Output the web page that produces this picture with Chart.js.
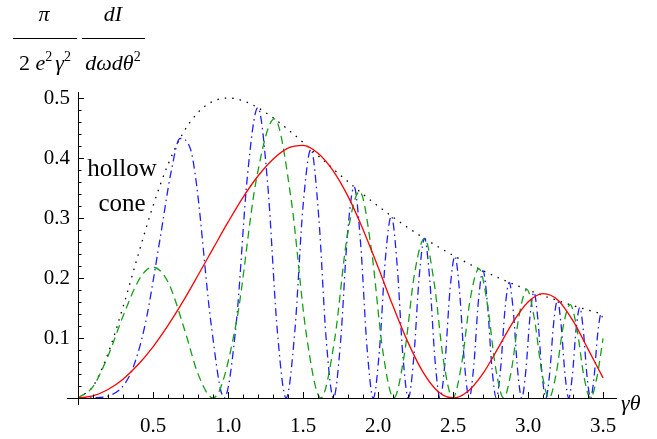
<!DOCTYPE html>
<html>
<head>
<meta charset="utf-8">
<script src="https://cdn.jsdelivr.net/npm/chart.js@4"></script>
<style>
  html, body { margin: 0; padding: 0; background: #fff; }
  canvas { display: block; }
</style>
</head>
<body>
<canvas id="myChart" width="657" height="439"></canvas>
<script>
// tick labels
const xTicks = [0.5, 1.0, 1.5, 2.0, 2.5, 3.0, 3.5];
const yTicks = [0.1, 0.2, 0.3, 0.4, 0.5];

// dotted envelope (hollow cone)
const xEnv = [0, 0.1, 0.2, 0.3, 0.4, 0.5, 0.6, 0.7, 0.8, 0.9, 1.0, 1.1, 1.2, 1.3, 1.4, 1.5, 1.6, 1.7,
  1.8, 1.9, 2.0, 2.1, 2.2, 2.3, 2.4, 2.5, 2.6, 2.7, 2.8, 2.9, 3.0, 3.1, 3.2, 3.3, 3.4, 3.5];
const envVals = [0, 0.0196, 0.0740, 0.1515, 0.2378, 0.3200, 0.3893, 0.4414, 0.4759, 0.4945, 0.5000,
  0.4955, 0.4837, 0.4671, 0.4474, 0.4260, 0.4040, 0.3820, 0.3605, 0.3397, 0.3200, 0.3014, 0.2838,
  0.2674, 0.2521, 0.2378, 0.2245, 0.2122, 0.2007, 0.1900, 0.1800, 0.1707, 0.1621, 0.1541, 0.1466, 0.1396];

// red solid
const xRed = xEnv;
const redVals = [0, 0.0035, 0.0141, 0.0314, 0.0554, 0.0853, 0.1210, 0.1610, 0.2045, 0.2490, 0.2930,
  0.3345, 0.3700, 0.3980, 0.4165, 0.4210, 0.4080, 0.3790, 0.3360, 0.2810, 0.2182, 0.1532, 0.0927,
  0.0430, 0.0107, 0.0000, 0.0113, 0.0410, 0.0830, 0.1265, 0.1600, 0.1740, 0.1630, 0.1285, 0.0815, 0.0335];

// green dashed
const xGreen = [0, 0.1, 0.2, 0.3, 0.4, 0.4546, 0.5, 0.6, 0.7130, 0.8, 0.9,
  1.0544, 1.1888, 1.3096, 1.4201, 1.5226,
  1.6186, 1.7093, 1.7954, 1.8775, 1.9562, 2.0318,
  2.1048, 2.1752, 2.2435, 2.3098, 2.3742, 2.4369,
  2.4980, 2.5577, 2.6160, 2.6730, 2.7289, 2.7836,
  2.8373, 2.8899, 2.9417, 2.9925, 3.0425, 3.0917,
  3.1401, 3.1877, 3.2347, 3.2810, 3.3267, 3.3717,
  3.4161, 3.4600, 3.5];
const greenVals = [0, 0.0190, 0.0700, 0.1364, 0.1942, 0.2129, 0.2180, 0.1933, 0.1117, 0.0402, 0,
  0.1246, 0.3640, 0.4653, 0.3324, 0.1053,
  0, 0.0950, 0.2711, 0.3443, 0.2464, 0.0785,
  0, 0.0720, 0.2074, 0.2659, 0.1920, 0.0617,
  0, 0.0575, 0.1669, 0.2154, 0.1566, 0.0506,
  0, 0.0477, 0.1393, 0.1807, 0.1320, 0.0429,
  0, 0.0408, 0.1194, 0.1555, 0.1140, 0.0372,
  0, 0.0356, 0.0995];

// blue dot-dashed
const xBlue = [0, 0.1, 0.2, 0.3, 0.3708, 0.45, 0.5477, 0.62, 0.6801, 0.75, 0.7906, 0.8874,
  0.9747, 1.0548, 1.1292, 1.1990, 1.2649, 1.3276,
  1.3874, 1.4448, 1.5000, 1.5532, 1.6047, 1.6545,
  1.7029, 1.7500, 1.7958, 1.8405, 1.8841, 1.9268,
  1.9685, 2.0094, 2.0494, 2.0887, 2.1272, 2.1651,
  2.2023, 2.2389, 2.2749, 2.3103, 2.3452, 2.3796,
  2.4135, 2.4469, 2.4799, 2.5125, 2.5446, 2.5763,
  2.6077, 2.6387, 2.6693, 2.6995, 2.7295, 2.7591,
  2.7884, 2.8174, 2.8460, 2.8745, 2.9026, 2.9304,
  2.9580, 2.9854, 3.0125, 3.0393, 3.0659, 3.0923,
  3.1185, 3.1444, 3.1702, 3.1957, 3.2210, 3.2462,
  3.2711, 3.2958, 3.3204, 3.3448, 3.3690, 3.3930,
  3.4169, 3.4405, 3.4641, 3.4875, 3.5];
const blueVals = [0, 0.0003, 0.0032, 0.0198, 0.0531, 0.1254, 0.2663, 0.3762, 0.4325, 0.4145, 0.3550, 0.1232,
  0, 0.1246, 0.3695, 0.4839, 0.3550, 0.1155,
  0, 0.1095, 0.3195, 0.4143, 0.3022, 0.0980,
  0, 0.0928, 0.2710, 0.3519, 0.2572, 0.0836,
  0, 0.0796, 0.2330, 0.3034, 0.2224, 0.0725,
  0, 0.0693, 0.2036, 0.2658, 0.1953, 0.0638,
  0, 0.0613, 0.1805, 0.2361, 0.1738, 0.0569,
  0, 0.0549, 0.1619, 0.2122, 0.1565, 0.0513,
  0, 0.0497, 0.1467, 0.1926, 0.1423, 0.0467,
  0, 0.0454, 0.1341, 0.1763, 0.1304, 0.0429,
  0, 0.0417, 0.1235, 0.1625, 0.1203, 0.0396,
  0, 0.0386, 0.1144, 0.1506, 0.1116, 0.0368,
  0, 0.0359, 0.1065, 0.1404, 0.1287];

const SERIF = '"Liberation Serif", "DejaVu Serif", serif';

const pts = (xs, ys) => xs.map((x, i) => ({ x: x, y: ys[i] }));

// draws a row of text runs centred on cx
const drawRuns = (ctx, runs, cx, y) => {
  let total = 0;
  runs.forEach(r => { ctx.font = r.font; total += ctx.measureText(r.t).width + (r.gap || 0); });
  let x = cx - total / 2;
  runs.forEach(r => {
    ctx.font = r.font;
    ctx.fillText(r.t, x, y + (r.dy || 0));
    x += ctx.measureText(r.t).width + (r.gap || 0);
  });
};

// Mathematica-like axes through the origin, ticks pointing inward, plus labels
const axesPlugin = {
  id: 'axes',
  afterDraw(chart) {
    const ctx = chart.ctx;
    const xs = chart.scales.x, ys = chart.scales.y;
    const x0 = xs.getPixelForValue(0), y0 = ys.getPixelForValue(0);
    ctx.save();
    ctx.strokeStyle = '#000';
    ctx.lineWidth = 1;
    ctx.beginPath();
    ctx.moveTo(x0 - 11, y0 + 0.5); ctx.lineTo(chart.chartArea.right, y0 + 0.5);
    ctx.moveTo(x0 + 0.5, chart.chartArea.top); ctx.lineTo(x0 + 0.5, y0 + 7);
    for (let i = 1; i <= 35; i++) {
      const v = i / 10;
      const px = Math.round(xs.getPixelForValue(v)) + 0.5;
      const len = (i % 5 === 0) ? 6 : 3.5;
      ctx.moveTo(px, y0); ctx.lineTo(px, y0 - len);
    }
    for (let i = 1; i <= 25; i++) {
      const v = i / 50;
      const py = Math.round(ys.getPixelForValue(v)) + 0.5;
      const len = (i % 5 === 0) ? 6 : 3.5;
      ctx.moveTo(x0, py); ctx.lineTo(x0 + len, py);
    }
    ctx.stroke();

    ctx.fillStyle = '#000';
    ctx.textBaseline = 'alphabetic';
    const it = 'italic 22px ' + SERIF;
    const up = '22px ' + SERIF;
    const sup = '14px ' + SERIF;
    // y-axis label as two fractions
    drawRuns(ctx, [{ t: 'π', font: it }], 44, 21);
    drawRuns(ctx, [{ t: '2 ', font: up }, { t: 'e', font: it }, { t: '2', font: sup, dy: -9, gap: 3 },
      { t: 'γ', font: it }, { t: '2', font: sup, dy: -9 }], 45, 70);
    drawRuns(ctx, [{ t: 'dI', font: it }], 113, 21);
    drawRuns(ctx, [{ t: 'dωdθ', font: it }, { t: '2', font: sup, dy: -9 }], 113, 70);
    ctx.beginPath();
    ctx.moveTo(13, 38.5); ctx.lineTo(77, 38.5);
    ctx.moveTo(82, 38.5); ctx.lineTo(145, 38.5);
    ctx.stroke();
    // x-axis label
    ctx.font = it;
    ctx.textAlign = 'left';
    ctx.fillText('γθ', 621, 410);
    // annotation
    ctx.font = '25px ' + SERIF;
    ctx.textAlign = 'center';
    ctx.fillText('hollow', 122, 176);
    ctx.fillText('cone', 122, 211);
    ctx.restore();
  }
};

const ctx = document.getElementById('myChart').getContext('2d');
const lineStyle = (color, width, dash) => ({
  borderColor: color, borderWidth: width, borderDash: dash,
  pointRadius: 0, fill: false, cubicInterpolationMode: 'monotone'
});

new Chart(ctx, {
  type: 'line',
  data: {
    datasets: [
      Object.assign({ label: 'red', data: pts(xRed, redVals) }, lineStyle('#ff0000', 1.3, [])),
      Object.assign({ label: 'green', data: pts(xGreen, greenVals) }, lineStyle('rgb(20,160,20)', 1.3, [8, 5])),
      Object.assign({ label: 'blue', data: pts(xBlue, blueVals) }, lineStyle('rgb(30,30,255)', 1.3, [8, 4, 1.5, 4])),
      Object.assign({ label: 'envelope', data: pts(xEnv, envVals) }, lineStyle('#000', 1.3, [1.5, 6]))
    ]
  },
  options: {
    responsive: false,
    animation: false,
    devicePixelRatio: 1,
    layout: { padding: { left: 0, top: 92, right: 40, bottom: 0 } },
    plugins: { legend: { display: false }, tooltip: { enabled: false } },
    scales: {
      x: {
        type: 'linear', min: 0, max: 3.593,
        grid: { display: false, drawTicks: false },
        border: { display: false },
        afterBuildTicks: (s) => { s.ticks = xTicks.map(v => ({ value: v })); },
        afterFit: (s) => { s.height = 41; },
        ticks: {
          padding: 16, color: '#000', maxRotation: 0, autoSkip: false,
          font: { family: SERIF, size: 21 },
          callback: (v) => Number(v).toFixed(1)
        }
      },
      y: {
        type: 'linear', min: 0, max: 0.51,
        grid: { display: false, drawTicks: false },
        border: { display: false },
        afterBuildTicks: (s) => { s.ticks = yTicks.map(v => ({ value: v })); },
        afterFit: (s) => { s.width = 78; },
        ticks: {
          padding: 8, color: '#000', autoSkip: false,
          font: { family: SERIF, size: 21 },
          callback: (v) => Number(v).toFixed(1)
        }
      }
    }
  },
  plugins: [axesPlugin]
});
</script>
</body>
</html>
